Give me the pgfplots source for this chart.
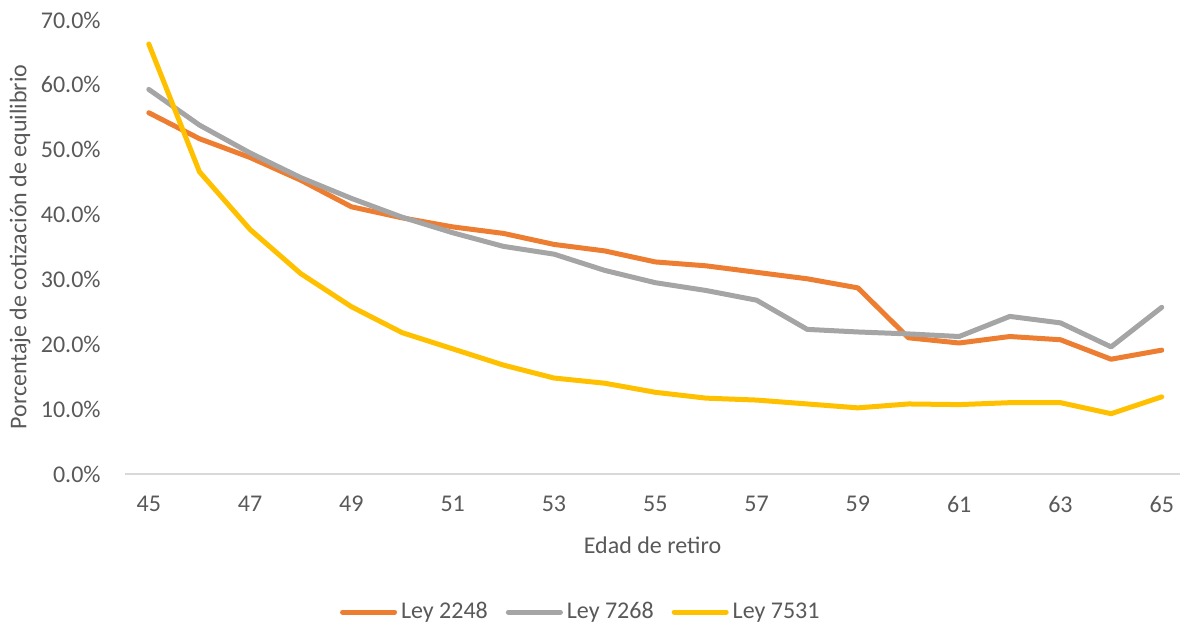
\documentclass[border=0pt]{standalone}
\usepackage{pgfplots}
\pgfplotsset{compat=1.18}
\usepackage{fontspec}
\setmainfont{Carlito}
\definecolor{cOr}{HTML}{ED7D31}
\definecolor{cGr}{HTML}{A5A5A5}
\definecolor{cYe}{HTML}{FFC000}
\definecolor{cTx}{HTML}{595959}
\definecolor{cAx}{HTML}{D9D9D9}
\begin{document}
\fontsize{12}{14}\selectfont
\begin{tikzpicture}
\useasboundingbox (-62.5pt,-77.5pt) rectangle (527.5pt,237pt);
\begin{axis}[
  at={(0,0)}, anchor=south west,
  scale only axis, width=527.5pt, height=227pt,
  xmin=44.53, xmax=65.36, ymin=0, ymax=70,
  axis x line*=bottom, axis y line*=left,
  x axis line style={-, draw=cAx, line width=0.75pt},
  y axis line style={draw=none},
  major tick length=0pt,
  xtick={45,47,...,65},
  ytick={0,10,...,70},
  yticklabels={0.0\%,10.0\%,20.0\%,30.0\%,40.0\%,50.0\%,60.0\%,70.0\%},
  /pgf/number format/assume math mode=true,
  tick label style={font=\fontsize{12}{14}\selectfont, text=cTx},
  yticklabel style={xshift=-8pt},
  xticklabel style={yshift=-7pt},
  xlabel={Edad de retiro},
  ylabel={Porcentaje de cotización de equilibrio},
  label style={font=\fontsize{12}{14}\selectfont, text=cTx},
  xlabel style={at={(axis description cs:0.5,-0.1564)}, anchor=center},
  ylabel style={at={(axis description cs:-0.0995,0.5)}, anchor=center, rotate=0},
  legend style={at={(axis description cs:0.433,-0.304)}, anchor=center, draw=none,
    legend columns=3, font=\fontsize{12}{14}\selectfont, text=cTx,
    /tikz/every even column/.append style={column sep=7pt}},
  legend cell align=left,
  legend image code/.code={\draw[line width=2.5pt, line cap=round] (0pt,0pt) -- (26pt,0pt);},
  every axis plot/.append style={line width=2.5pt, line join=round, line cap=round, mark=none},
]
\addplot[cOr] coordinates {(45,55.7)(46,51.7)(47,48.8)(48,45.3)(49,41.2)(50,39.5)(51,38.1)(52,37.1)(53,35.4)(54,34.4)(55,32.7)(56,32.1)(57,31.1)(58,30.1)(59,28.7)(60,21.0)(61,20.2)(62,21.2)(63,20.7)(64,17.7)(65,19.1)};
\addlegendentry{Ley 2248}
\addplot[cGr] coordinates {(45,59.3)(46,53.8)(47,49.5)(48,45.7)(49,42.5)(50,39.6)(51,37.2)(52,35.1)(53,33.9)(54,31.4)(55,29.5)(56,28.3)(57,26.8)(58,22.3)(59,21.9)(60,21.6)(61,21.2)(62,24.3)(63,23.3)(64,19.6)(65,25.7)};
\addlegendentry{Ley 7268}
\addplot[cYe] coordinates {(45,66.3)(46,46.6)(47,37.7)(48,30.9)(49,25.8)(50,21.8)(51,19.3)(52,16.8)(53,14.8)(54,14.0)(55,12.6)(56,11.7)(57,11.4)(58,10.8)(59,10.2)(60,10.8)(61,10.7)(62,11.0)(63,11.0)(64,9.3)(65,11.9)};
\addlegendentry{Ley 7531}
\end{axis}
\end{tikzpicture}
\end{document}
